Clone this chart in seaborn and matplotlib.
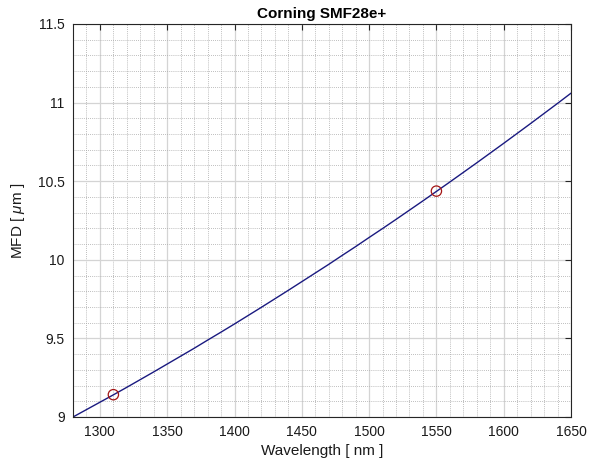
import numpy as np
import pandas as pd
import seaborn as sns
import matplotlib
matplotlib.use("Agg")
import matplotlib.pyplot as plt
from matplotlib.ticker import MultipleLocator

# ---- data ----
wavelength_nm = [1280, 1290, 1300, 1310, 1320, 1330, 1340, 1350, 1360, 1370,
                 1380, 1390, 1400, 1410, 1420, 1430, 1440, 1450, 1460, 1470,
                 1480, 1490, 1500, 1510, 1520, 1530, 1540, 1550, 1560, 1570,
                 1580, 1590, 1600, 1610, 1620, 1630, 1640, 1650]
mfd_um = [9.000, 9.047, 9.094, 9.141, 9.189, 9.238, 9.287, 9.337, 9.387, 9.437,
          9.489, 9.540, 9.592, 9.645, 9.698, 9.752, 9.806, 9.861, 9.916, 9.971,
          10.028, 10.084, 10.142, 10.199, 10.257, 10.316, 10.375, 10.435, 10.495, 10.556,
          10.617, 10.679, 10.741, 10.804, 10.867, 10.931, 10.995, 11.060]
marker_wl = [1310, 1550]
marker_mfd = [9.142, 10.437]

x_ticks = [1300, 1350, 1400, 1450, 1500, 1550, 1600, 1650]
y_ticks = [9, 9.5, 10, 10.5, 11, 11.5]
y_tick_labels = ["9", "9.5", "10", "10.5", "11", "11.5"]

title = "Corning SMF28e+"
xlabel = "Wavelength [ nm ]"
ylabel = "MFD [ $\\mu$m ]"

sns.set_style("white")
plt.rcParams['font.family'] = ['Liberation Sans', 'DejaVu Sans']
plt.rcParams['mathtext.fontset'] = 'custom'
plt.rcParams['mathtext.it'] = 'Liberation Sans:italic'

df = pd.DataFrame({"wl": wavelength_nm, "mfd": mfd_um})
dm = pd.DataFrame({"wl": marker_wl, "mfd": marker_mfd})

fig = plt.figure(figsize=(5.96, 4.68), dpi=100)
ax = fig.add_axes([73/596, (468-417)/468, (571-73)/596, (417-24)/468])

ax.set_axisbelow(True)
sns.lineplot(data=df, x="wl", y="mfd", ax=ax, color="#1a1a80", linewidth=1.0)
ax.scatter(dm["wl"], dm["mfd"], s=55, facecolors="none", edgecolors="#a31515",
           linewidths=0.9, zorder=3)

ax.set_xlim(1280, 1650)
ax.set_ylim(9, 11.5)
ax.set_xticks(x_ticks)
ax.set_yticks(y_ticks)
ax.set_yticklabels(y_tick_labels)
ax.xaxis.set_minor_locator(MultipleLocator(10))
ax.yaxis.set_minor_locator(MultipleLocator(0.1))

ax.grid(which="major", color="#d4d4d4", linestyle="-", linewidth=0.9)
ax.grid(which="minor", color="#a8a8a8", linestyle=(0, (1, 1.5)), linewidth=0.6)

ax.tick_params(which="major", direction="in", length=4, width=0.8,
               top=True, right=True, labelsize=10, colors="#262626",
               labelcolor="#1a1a1a", pad=6)
ax.tick_params(which="minor", length=0, top=True, right=True)
for sp in ax.spines.values():
    sp.set_visible(True)
    sp.set_color("#262626")
    sp.set_linewidth(0.8)

ax.set_title(title, fontsize=11, fontweight="bold", pad=4, color="#000000")
ax.set_xlabel(xlabel, fontsize=11, labelpad=3, color="#1a1a1a")
ax.set_ylabel(ylabel, fontsize=11, labelpad=8, color="#1a1a1a")

fig.savefig("out.png", dpi=100)
